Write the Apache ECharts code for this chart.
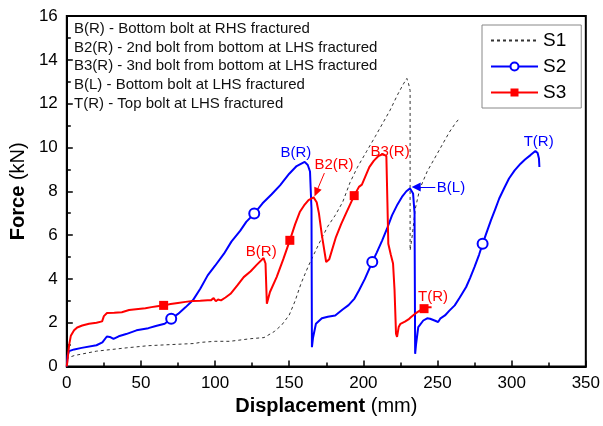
<!DOCTYPE html>
<html>
<head>
<meta charset="utf-8">
<script src="https://cdn.jsdelivr.net/npm/echarts@6/dist/echarts.min.js"></script>
<style>
  html, body { margin: 0; padding: 0; background: #fff; }
  #chart { width: 603px; height: 426px; }
</style>
</head>
<body>
<div id="chart"></div>
<script>
// S1 - dashed reference curve (displacement mm, force kN)
const s1Data = [
  [0, 0.3], [1, 0.4], [5, 0.5], [20, 0.7], [40, 0.85], [55, 0.95], [70, 1.0], [86, 1.05],
  [90, 1.1], [100, 1.15], [110, 1.15], [124, 1.27], [133, 1.32], [140, 1.6], [145, 1.9],
  [150, 2.35], [154, 3.0], [158, 3.8], [163, 4.6], [170, 5.6], [176, 6.4], [181, 6.9],
  [186, 7.5], [191, 8.4], [196, 9.1], [202, 9.8], [208, 10.5], [213, 11.1], [218, 11.7],
  [223, 12.4], [227, 12.9], [229.3, 13.15], [230.5, 12.9], [231.5, 12.6], [231.5, 5.3],
  [233, 6.0], [235, 7.2], [238, 8.1], [243, 8.9], [248, 9.5], [253, 10.1], [258, 10.7],
  [262, 11.1], [265, 11.35]
];
// S2 - blue
const s2Data = [
  [0, 0], [0.5, 0.5], [1.5, 0.7], [5, 0.78], [10, 0.85], [20, 0.97], [24, 1.1], [27, 1.37],
  [29, 1.35], [31.5, 1.26], [35, 1.38], [40, 1.48], [47, 1.65], [55, 1.75], [60, 1.85],
  [66, 1.95], [70.4, 2.18], [75, 2.4], [80, 2.7], [85, 3.02], [90, 3.55], [95, 4.16],
  [100, 4.6], [106, 5.15], [111, 5.7], [117, 6.2], [121, 6.6], [126.4, 6.98], [132, 7.45],
  [138, 7.85], [143.8, 8.27], [150, 8.8], [155, 9.15], [160.4, 9.34], [162.5, 9.2],
  [164, 8.9], [165, 7.2], [165.3, 0.88], [166, 1.3], [168, 1.95], [172, 2.2], [176, 2.27],
  [181, 2.33], [186, 2.6], [190, 2.8], [194, 3.1], [197, 3.47], [201, 4.0], [206, 4.77],
  [209, 5.2], [212.7, 5.76], [216, 6.3], [219.3, 6.9], [223, 7.4], [226, 7.74], [229, 8.0],
  [231.5, 8.13], [233.5, 7.9], [234.5, 7.0], [234.9, 0.58], [235.5, 1.0], [237, 1.8],
  [240.4, 2.1], [243, 2.2], [245, 2.18], [248, 2.1], [250.4, 2.03], [252, 2.2], [255, 2.33],
  [258, 2.55], [261.6, 2.79], [265, 3.15], [269.3, 3.63], [272, 4.05], [274.9, 4.54],
  [278, 5.1], [280.4, 5.6], [283, 6.1], [286, 6.67], [289, 7.2], [291.6, 7.67], [295, 8.15],
  [298.2, 8.58], [302, 8.95], [306, 9.26], [309, 9.45], [312.7, 9.65], [316, 9.84],
  [317.5, 9.75], [318.4, 9.5], [318.7, 9.11]
];
// S3 - red
const s3Data = [
  [0, 0], [0.8, 0.5], [1.6, 1.0], [2.7, 1.4], [4.9, 1.65], [7, 1.78], [10.4, 1.87], [15, 1.95],
  [20, 2.0], [23.8, 2.06], [25, 2.3], [27.1, 2.44], [32, 2.45], [37.1, 2.48], [42, 2.58],
  [48.2, 2.63], [53, 2.66], [57.1, 2.71], [61, 2.75], [65.3, 2.79], [70, 2.85], [74.9, 2.9],
  [80, 2.95], [84.9, 2.99], [90, 3.0], [95, 3.02], [97.1, 3.02], [99, 3.12], [100.5, 2.98],
  [102, 3.06], [104, 3.02], [107, 3.15], [110.4, 3.32], [115, 3.7], [119.3, 4.08], [124, 4.35],
  [128.2, 4.65], [132.7, 4.95], [134, 4.7], [134.9, 2.87], [137, 3.4], [141.5, 4.08],
  [146, 4.9], [150.4, 5.76], [154, 6.5], [157.1, 7.05], [160, 7.35], [163, 7.6], [166.4, 7.72],
  [168.5, 7.5], [170, 7.0], [172, 6.0], [174.9, 4.77], [177, 4.9], [181.5, 5.91], [185, 6.5],
  [188.2, 6.98], [193.8, 7.8], [197, 8.2], [199, 8.3], [201.5, 8.7], [204, 9.1], [207.1, 9.4],
  [210, 9.6], [213.2, 9.7], [215.5, 9.6], [216.2, 7.5], [216.8, 5.6], [218.5, 5.1], [220, 4.7],
  [221, 3.5], [222, 1.5], [222.7, 1.35], [223.8, 1.8], [225, 1.95], [228, 2.05], [230.4, 2.15],
  [232, 2.25], [234.9, 2.41], [238, 2.55], [240.9, 2.64], [243, 2.7], [246, 2.71]
];
// x positions of the marker symbols
const s2Marks = [70.4, 126.4, 206, 280.4];
const s3Marks = [65.3, 150.4, 193.8, 240.9];

// event labels on the curves [text, x, y, colour]
const eventLabels = [
  ['B(R)', 154.5, 9.74, '#0000ff'],
  ['B2(R)', 180.2, 9.2, '#ff0000'],
  ['B3(R)', 218, 9.81, '#ff0000'],
  ['B(R)', 131.1, 5.25, '#ff0000'],
  ['T(R)', 247, 3.19, '#ff0000'],
  ['T(R)', 318.2, 10.27, '#0000ff']
];
const noteLines = [
  'B(R) - Bottom bolt at RHS fractured',
  'B2(R) - 2nd bolt from bottom at LHS fractured',
  'B3(R) - 3nd bolt from bottom at LHS fractured',
  'B(L) - Bottom bolt at LHS fractured',
  'T(R) - Top bolt at LHS fractured'
];

const FONT = 'Arial, "Liberation Sans", sans-serif';

function withMarks(points, marks) {
  return points.map(p => marks.indexOf(p[0]) >= 0 ? { value: p } : { value: p, symbol: 'none' });
}

const chart = echarts.init(document.getElementById('chart'));

chart.setOption({
  animation: false,
  textStyle: { fontFamily: FONT },
  grid: {
    left: 62, right: 17, top: 16, bottom: 59.5,
    show: true, borderColor: '#000', borderWidth: 2
  },
  legend: {
    orient: 'vertical',
    left: 482, top: 25,
    padding: [6, 15, 6, 8],
    itemGap: 7,
    itemWidth: 47,
    itemHeight: 10,
    backgroundColor: '#fff',
    borderColor: '#888',
    borderWidth: 1,
    borderRadius: 0,
    textStyle: { fontSize: 19, color: '#000', fontFamily: FONT },
    data: [{ name: 'S1', itemStyle: { opacity: 0 } }, 'S2', 'S3']
  },
  xAxis: {
    type: 'value',
    min: 0, max: 350, interval: 50,
    name: '{b|Displacement} (mm)',
    nameLocation: 'middle',
    nameGap: 30,
    nameTextStyle: {
      fontSize: 20, color: '#000', fontFamily: FONT,
      rich: { b: { fontSize: 20, fontWeight: 'bold', color: '#000', fontFamily: FONT } }
    },
    axisLine: { onZero: false, lineStyle: { color: '#000', width: 2 } },
    axisTick: { inside: true, length: 6, lineStyle: { color: '#000', width: 1.5 } },
    minorTick: { show: true, splitNumber: 2, length: 4, lineStyle: { color: '#000', width: 1.5 } },
    axisLabel: { fontSize: 17, color: '#000', margin: 8, fontFamily: FONT },
    splitLine: { show: false }
  },
  yAxis: {
    type: 'value',
    min: 0, max: 16, interval: 2,
    name: '{b|Force} (kN)',
    nameLocation: 'middle',
    nameGap: 34,
    nameTextStyle: {
      fontSize: 20, color: '#000', fontFamily: FONT,
      rich: { b: { fontSize: 20, fontWeight: 'bold', color: '#000', fontFamily: FONT } }
    },
    axisLine: { onZero: false, lineStyle: { color: '#000', width: 2 } },
    axisTick: { inside: true, length: 6, lineStyle: { color: '#000', width: 1.5 } },
    minorTick: { show: true, splitNumber: 2, length: 4, lineStyle: { color: '#000', width: 1.5 } },
    axisLabel: { fontSize: 17, color: '#000', margin: 9, fontFamily: FONT },
    splitLine: { show: false }
  },
  series: [
    {
      name: 'S1',
      type: 'line',
      symbol: 'none',
      color: '#333',
      lineStyle: { color: '#333', width: 1, type: [3, 3] },
      data: s1Data
    },
    {
      name: 'S2',
      type: 'line',
      symbol: 'emptyCircle',
      symbolSize: 10,
      showAllSymbol: true,
      color: '#0000ff',
      itemStyle: { color: '#0000ff', borderWidth: 1.5 },
      lineStyle: { color: '#0000ff', width: 2 },
      data: withMarks(s2Data, s2Marks),
      markLine: {
        silent: true,
        symbol: ['none', 'triangle'],
        symbolSize: [9, 9],
        label: { show: false },
        lineStyle: { color: '#0000ff', width: 1, type: 'solid' },
        data: [[{ coord: [248.5, 8.19] }, { coord: [235.6, 8.19] }]]
      }
    },
    {
      name: 'S3',
      type: 'line',
      symbol: 'rect',
      symbolSize: 9,
      showAllSymbol: true,
      color: '#ff0000',
      itemStyle: { color: '#ff0000' },
      lineStyle: { color: '#ff0000', width: 2 },
      data: withMarks(s3Data, s3Marks),
      markLine: {
        silent: true,
        symbol: ['none', 'triangle'],
        symbolSize: [8, 9],
        label: { show: false },
        lineStyle: { color: '#ff0000', width: 1, type: 'solid' },
        data: [[{ coord: [173.7, 8.83] }, { coord: [168.2, 7.95] }]]
      }
    }
  ]
});

// text annotations, placed through the grid's scales
const graphics = eventLabels.map(l => {
  const p = chart.convertToPixel({ gridIndex: 0 }, [l[1], l[2]]);
  return {
    type: 'text', x: p[0], y: p[1], z: 100,
    style: { text: l[0], fill: l[3], font: '15px ' + FONT, align: 'center', verticalAlign: 'middle' }
  };
});
const bl = chart.convertToPixel({ gridIndex: 0 }, [249.5, 8.14]);
graphics.push({
  type: 'text', x: bl[0], y: bl[1], z: 100,
  style: { text: 'B(L)', fill: '#0000ff', font: '15px ' + FONT, align: 'left', verticalAlign: 'middle' }
});
noteLines.forEach((t, i) => {
  graphics.push({
    type: 'text', x: 74, y: 28.6 + i * 18.8, z: 100,
    style: { text: t, fill: '#111', font: '15px ' + FONT, align: 'left', verticalAlign: 'middle' }
  });
});
chart.setOption({ graphic: graphics });
</script>
</body>
</html>
